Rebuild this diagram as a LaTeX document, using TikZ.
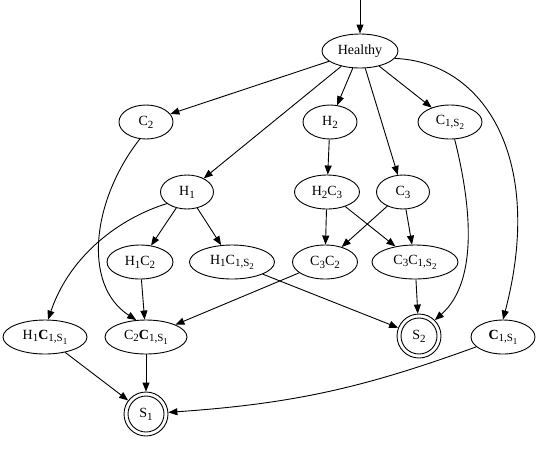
\documentclass[tikz,border=0pt]{standalone}
\usepackage{fontspec}
\setmainfont{Liberation Serif}
\usetikzlibrary{shapes.geometric,arrows.meta}
\newcommand{\sbs}[1]{\raisebox{-0.45ex}{\fontsize{11}{11}\selectfont #1}}
\newcommand{\sbss}[1]{\raisebox{-0.45ex}{\fontsize{9}{9}\selectfont #1}}
\tikzset{
  stnode/.style={ellipse, draw, line width=0.9pt, inner sep=0pt, minimum height=34pt, font=\fontsize{14}{16}\selectfont},
  finnode/.style={circle, draw, line width=0.9pt, minimum size=44pt, inner sep=0pt, font=\fontsize{14}{16}\selectfont,
    path picture={\draw[line width=0.9pt] (path picture bounding box.center) circle (18pt);}},
  arr/.style={line width=0.9pt, -{Triangle[length=9pt,width=7pt]}},
}
\begin{document}
\begin{tikzpicture}[x=1pt,y=-1pt]
\useasboundingbox (0,0) rectangle (537,448);
\node[stnode, minimum width=76pt] (Healthy) at (360,51) {Healthy};
\node[stnode, minimum width=54pt] (C2) at (146,122) {C\sbs{2}};
\node[stnode, minimum width=54pt] (H2) at (330,122) {H\sbs{2}};
\node[stnode, minimum width=64pt] (C1S2) at (450,122) {C\sbs{1,S\sbss{2}}};
\node[stnode, minimum width=53pt] (H1) at (187,192) {H\sbs{1}};
\node[stnode, minimum width=65pt] (H2C3) at (327,192) {H\sbs{2}C\sbs{3}};
\node[stnode, minimum width=53pt] (C3) at (403,192) {C\sbs{3}};
\node[stnode, minimum width=66pt] (H1C2) at (140,262) {H\sbs{1}C\sbs{2}};
\node[stnode, minimum width=85pt] (H1C1S2) at (232,262) {H\sbs{1}C\sbs{1,S\sbss{2}}};
\node[stnode, minimum width=65pt] (C3C2) at (325,262) {C\sbs{3}C\sbs{2}};
\node[stnode, minimum width=86pt] (C3C1S2) at (415,262) {C\sbs{3}C\sbs{1,S\sbss{2}}};
\node[stnode, minimum width=84pt] (H1C1S1) at (45,337) {H\sbs{1}\textbf{C}\sbs{1,S\sbss{1}}};
\node[stnode, minimum width=82pt] (C2C1S1) at (146,337) {C\sbs{2}\textbf{C}\sbs{1,S\sbss{1}}};
\node[finnode] (S2) at (419,336) {S\sbs{2}};
\node[stnode, minimum width=64pt] (C1S1) at (503,337) {\textbf{C}\sbs{1,S\sbss{1}}};
\node[finnode] (S1) at (146,414) {S\sbs{1}};
\coordinate (start) at (360,0);
\draw[arr] (start) -- (Healthy);
\draw[arr] (Healthy) -- (C2);
\draw[arr] (Healthy) -- (H1);
\draw[arr] (Healthy) -- (H2);
\draw[arr] (Healthy) -- (C3);
\draw[arr] (Healthy) -- (C1S2);
\draw[arr] (Healthy.-12) .. controls (485,62) and (545,160) .. (C1S1.north);
\draw[arr] (C2.-110) .. controls (92,200) and (82,285) .. (C2C1S1.120);
\draw[arr] (H2) -- (H2C3);
\draw[arr] (C1S2.-75) .. controls (470,200) and (480,280) .. (S2.45);
\draw[arr] (H1) -- (H1C2);
\draw[arr] (H1) -- (H1C1S2);
\draw[arr] (H1.-150) .. controls (120,218) and (70,255) .. (H1C1S1.80);
\draw[arr] (H2C3) -- (C3C2);
\draw[arr] (H2C3) -- (C3C1S2);
\draw[arr] (C3) -- (C3C2);
\draw[arr] (C3) -- (C3C1S2);
\draw[arr] (H1C2) -- (C2C1S1);
\draw[arr] (H1C1S2) -- (S2);
\draw[arr] (C3C2) -- (C2C1S1);
\draw[arr] (C3C1S2) -- (S2);
\draw[arr] (H1C1S1) -- (S1);
\draw[arr] (C2C1S1) -- (S1);
\draw[arr] (C1S1) to[bend left=8] (S1);
\end{tikzpicture}
\end{document}
